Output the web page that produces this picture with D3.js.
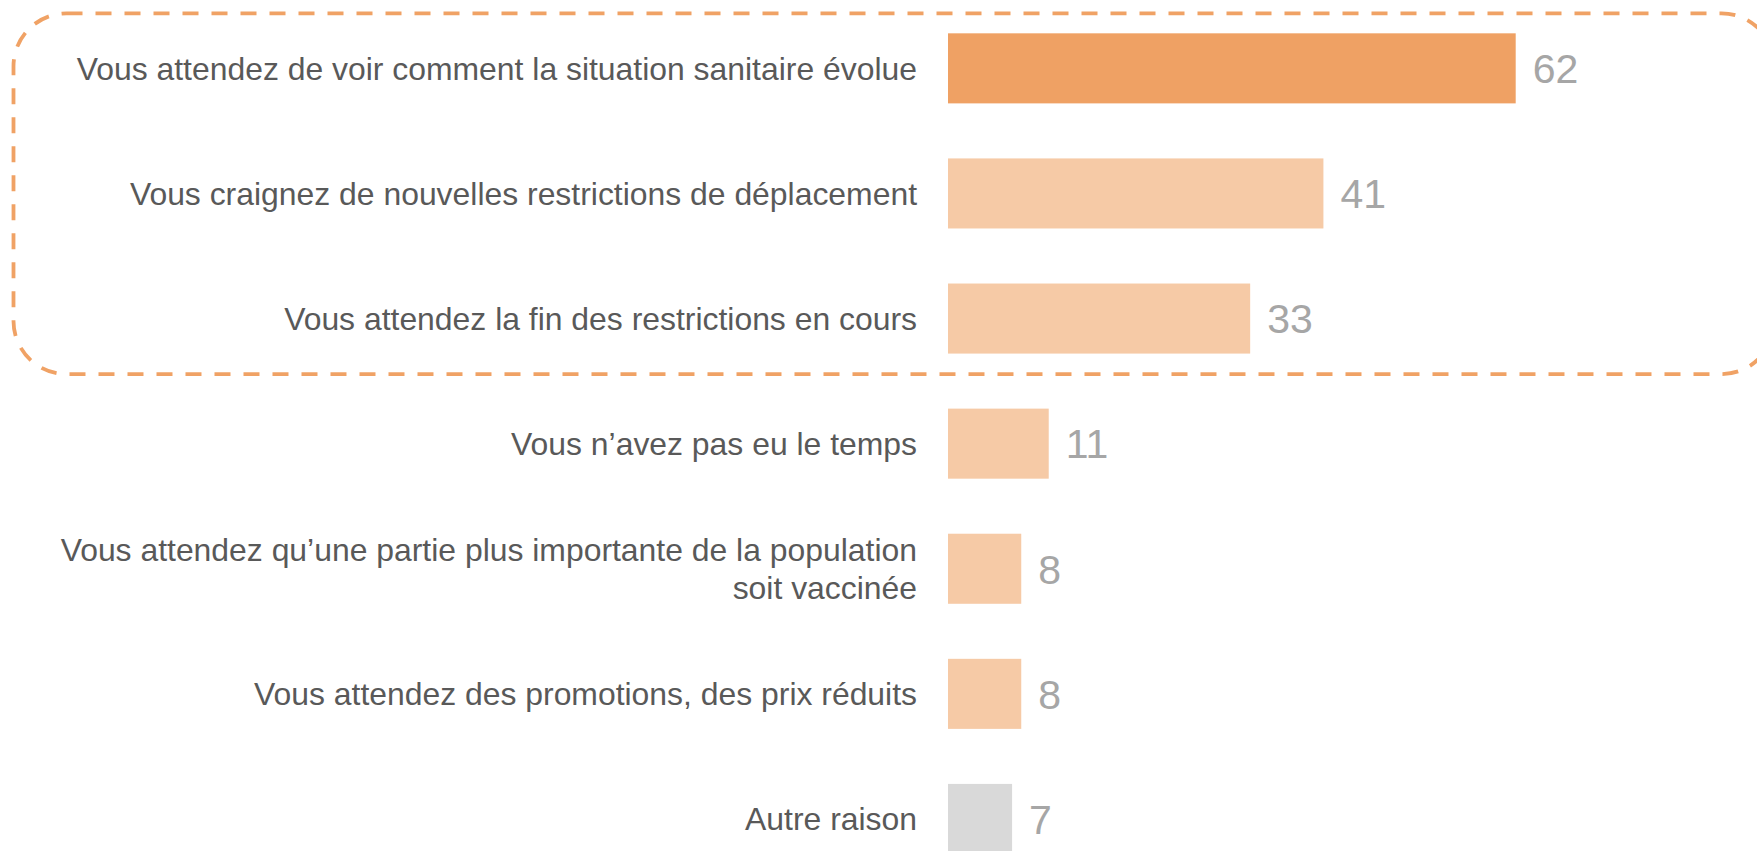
<!DOCTYPE html>
<html>
<head>
<meta charset="utf-8">
<script src="https://cdn.jsdelivr.net/npm/d3@7"></script>
<style>
  html, body { margin: 0; padding: 0; background: #fff; overflow: hidden; }
</style>
</head>
<body>
<div id="chart"></div>
<script>
var categories = [
    "Vous attendez de voir comment la situation sanitaire évolue",
    "Vous craignez de nouvelles restrictions de déplacement",
    "Vous attendez la fin des restrictions en cours",
    "Vous n’avez pas eu le temps",
    "Vous attendez qu’une partie plus importante de la population\nsoit vaccinée",
    "Vous attendez des promotions, des prix réduits",
    "Autre raison"
];
var values = [62, 41, 33, 11, 8, 8, 7];
var barColors = ["#EFA164", "#F6CAA6", "#F6CAA6", "#F6CAA6", "#F6CAA6", "#F6CAA6", "#D9D9D9"];
var highlighted = 3; // first three answers are framed

function init() {
    var w = 1757;
    var h = 851;

    var svg = d3.select("#chart")
                .append("svg")
                .attr("width", w)
                .attr("height", h);

    var y = d3.scaleBand()
              .domain(categories)
              .range([5.8, 881.5])
              .paddingInner(0.44)
              .paddingOuter(0.22);

    var x = d3.scaleLinear()
              .domain([0, 62])
              .range([948, 1515.7]);

    // dashed frame round the top answers
    var top = y(categories[0]) - 20;
    var bottom = y(categories[highlighted - 1]) + y.bandwidth() + 20.5;
    svg.append("rect")
       .attr("x", 13.5)
       .attr("y", top)
       .attr("width", 1761)
       .attr("height", bottom - top)
       .attr("rx", 53)
       .attr("ry", 53)
       .attr("fill", "none")
       .attr("stroke", "#F0A265")
       .attr("stroke-width", 3.8)
       .attr("stroke-dasharray", "16,13");

    var rows = svg.selectAll("g.row")
                  .data(categories)
                  .enter()
                  .append("g")
                  .attr("class", "row");

    rows.append("rect")
        .attr("x", x(0))
        .attr("y", function(d) { return y(d); })
        .attr("width", function(d, i) { return x(values[i]) - x(0); })
        .attr("height", y.bandwidth())
        .attr("fill", function(d, i) { return barColors[i]; });

    rows.append("text")
        .attr("x", function(d, i) { return x(values[i]) + 17; })
        .attr("y", function(d) { return y(d) + y.bandwidth() / 2; })
        .attr("dy", "0.36em")
        .attr("font-family", "Liberation Sans, Arial, sans-serif")
        .attr("font-size", 41)
        .attr("fill", "#A6A6A6")
        .text(function(d, i) { return values[i]; });

    var labels = rows.append("text")
        .attr("text-anchor", "end")
        .attr("font-family", "Liberation Sans, Arial, sans-serif")
        .attr("font-size", 31.9)
        .attr("fill", "#595959");

    labels.each(function(d) {
        var lines = d.split("\n");
        var cy = y(d) + y.bandwidth() / 2;
        var lh = 38;
        var t = d3.select(this);
        lines.forEach(function(line, k) {
            t.append("tspan")
             .attr("x", 917)
             .attr("y", cy + (k - (lines.length - 1) / 2) * lh)
             .attr("dy", "0.35em")
             .text(line);
        });
    });
}
window.onload = init;
</script>
</body>
</html>
